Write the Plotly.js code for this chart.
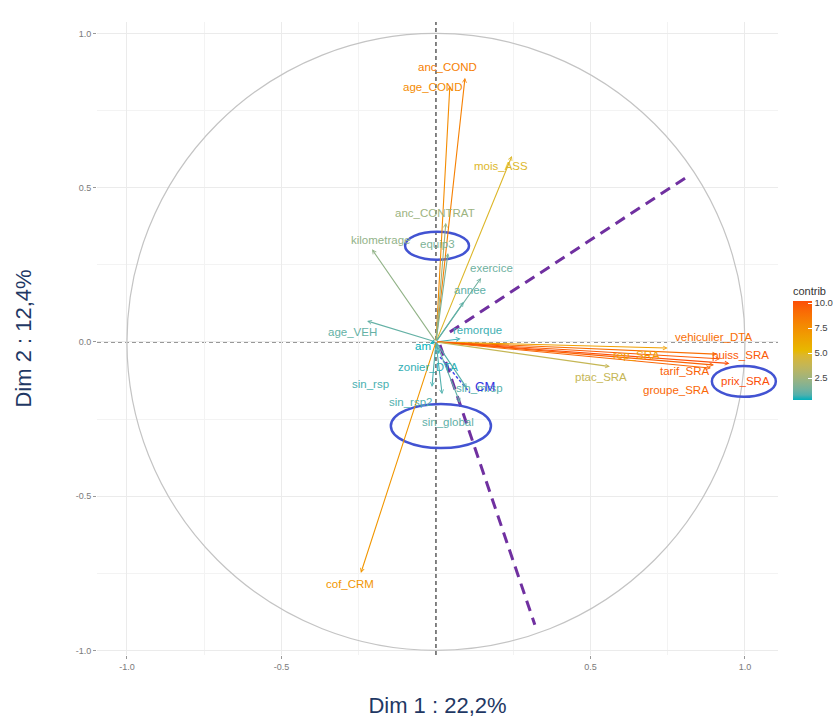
<!DOCTYPE html>
<html><head><meta charset="utf-8">
<script src="https://cdn.plot.ly/plotly-3.0.1.min.js"></script>
<style>html,body{margin:0;padding:0;background:#fff}</style>
</head><body><div id="chart" style="width:840px;height:720px"></div>
<script>
// ---- data ----
const varNames = ['anc_COND','age_COND','mois_ASS','anc_CONTRAT','equip3','kilometrage','exercice','annee',
  'age_VEH','remorque','am','zonier_DTA','sin_rsp','sin_rsp2','sin_mrsp','sin_global','cof_CRM',
  'vehiculier_DTA','rep_SRA','puiss_SRA','tarif_SRA','prix_SRA','groupe_SRA','ptac_SRA'];
const dim1 = [0.094,0.045,0.246,0.032,0.039,-0.207,0.146,0.090,
  -0.223,0.080,-0.020,0.010,-0.013,0.020,0.100,0.078,-0.243,
  0.910,0.750,0.920,0.900,0.950,0.890,0.563];
const dim2 = [0.856,0.830,0.603,0.386,0.288,0.300,0.207,0.130,
  0.068,0.010,-0.005,-0.040,-0.146,-0.170,-0.150,-0.198,-0.749,
  -0.040,-0.020,-0.055,-0.075,-0.070,-0.085,-0.080];
const contrib = [8.2,7.6,4.8,2.4,1.6,2.1,1.3,1.0,
  1.1,0.6,0.3,0.5,0.7,0.8,0.9,1.0,7.1,
  9.0,6.6,9.8,9.5,10.2,9.3,3.8];
const xTickVals = [-1,-0.5,0.5,1];
const xTickText = ['-1.0','-0.5','0.5','1.0'];
const yTickVals = [-1,-0.5,0,0.5,1];
const yTickText = ['-1.0','-0.5','0.0','0.5','1.0'];
const legendTickVals = [2.5,5,7.5,10];
const legendTickText = ['2.5','5.0','7.5','10.0'];
const xTitle = 'Dim 1 : 22,2%';
const yTitle = 'Dim 2 : 12,4%';
const legendTitle = 'contrib';
const highlightText = 'CM';

// ---- layout helpers (label repel offsets in px, hand-drawn marks) ----
const labelShift = {
  anc_COND:[-18,11], age_COND:[-17,-1], mois_ASS:[-11,-10], anc_CONTRAT:[-11,10], equip3:[-11,9],
  kilometrage:[8,9], exercice:[10,10], annee:[6,12], age_VEH:[-15,-11], remorque:[17,9], am:[-7,-3],
  zonier_DTA:[-11,-13], sin_rsp:[-61,3], sin_rsp2:[-32,-8], sin_mrsp:[13,0], sin_global:[-12,-19],
  cof_CRM:[-11,-11], vehiculier_DTA:[-4,17], rep_SRA:[-31,-7], puiss_SRA:[20,4], tarif_SRA:[-29,-6],
  prix_SRA:[16,-18], groupe_SRA:[-35,-22], ptac_SRA:[-9,-10]
};
const gradientCols = ['#00AFBB','#E7B800','#FC4E07'];
const cmin = Math.min(...contrib), cmax = Math.max(...contrib);

// Lab interpolation (as ggplot's gradientn)
function hex2rgb(h){return [1,3,5].map(i=>parseInt(h.substr(i,2),16));}
function lin(c){c/=255;return c<=0.04045?c/12.92:Math.pow((c+0.055)/1.055,2.4);}
function delin(c){c=c<=0.0031308?12.92*c:1.055*Math.pow(c,1/2.4)-0.055;return Math.max(0,Math.min(255,Math.round(c*255)));}
function rgb2lab(rgb){
  const [r,g,b]=rgb.map(lin);
  let X=(0.4124*r+0.3576*g+0.1805*b)/0.95047, Y=(0.2126*r+0.7152*g+0.0722*b), Z=(0.0193*r+0.1192*g+0.9505*b)/1.08883;
  const f=t=>t>0.008856?Math.cbrt(t):7.787*t+16/116;
  const fx=f(X),fy=f(Y),fz=f(Z);
  return [116*fy-16,500*(fx-fy),200*(fy-fz)];
}
function lab2rgb(lab){
  const fy=(lab[0]+16)/116, fx=fy+lab[1]/500, fz=fy-lab[2]/200;
  const fi=t=>t*t*t>0.008856?t*t*t:(t-16/116)/7.787;
  const X=fi(fx)*0.95047, Y=fi(fy), Z=fi(fz)*1.08883;
  const r=3.2406*X-1.5372*Y-0.4986*Z, g=-0.9689*X+1.8758*Y+0.0415*Z, b=0.0557*X-0.2040*Y+1.0570*Z;
  return [r,g,b].map(delin);
}
const labStops = gradientCols.map(h=>rgb2lab(hex2rgb(h)));
function colorAt(t){
  t=Math.max(0,Math.min(1,t));
  const seg=Math.min(labStops.length-2,Math.floor(t*(labStops.length-1)));
  const f=t*(labStops.length-1)-seg;
  const a=labStops[seg],b=labStops[seg+1];
  const c=lab2rgb(a.map((x,k)=>x+(b[k]-x)*f));
  return 'rgb('+c.join(',')+')';
}
function colorFor(v){return colorAt((v-cmin)/(cmax-cmin));}
const colorscale=[];
for(let i=0;i<=20;i++){colorscale.push([i/20,colorAt(i/20)]);}

const FONT = 'Liberation Sans, Arial, sans-serif';

const annotations = [];
varNames.forEach((n,i)=>{
  const col = colorFor(contrib[i]);
  annotations.push({x:dim1[i], y:dim2[i], ax:0, ay:0, xref:'x', yref:'y', axref:'x', ayref:'y',
    text:'', showarrow:true, arrowhead:5, arrowsize:0.7, arrowwidth:1.1, arrowcolor:col});
});
varNames.forEach((n,i)=>{
  const col = colorFor(contrib[i]);
  const s = labelShift[n]||[0,0];
  annotations.push({x:dim1[i], y:dim2[i], xref:'x', yref:'y', text:n, showarrow:false,
    xshift:s[0], yshift:s[1], font:{family:FONT, size:11.5, color:col}});
});
// hand-written "CM"
annotations.push({x:0.16, y:-0.145, xref:'x', yref:'y', text:highlightText, showarrow:false,
  font:{family:FONT, size:13, color:'#3434E0'}});

const ellipses = [
  {x0:-0.100,x1:0.107,y0:0.266,y1:0.357},
  {x0:-0.146,x1:0.178,y0:-0.344,y1:-0.201},
  {x0:0.893,x1:1.100,y0:-0.178,y1:-0.078}
];
const purpleLines = [
  {x0:0.045,y0:0.032,x1:0.822,y1:0.541},
  {x0:0.013,y0:-0.010,x1:0.320,y1:-0.917}
];
const shapes = [
  {type:'circle', xref:'x', yref:'y', x0:-1, x1:1, y0:-1, y1:1, layer:'between',
    line:{color:'#C4C4C4', width:1.2}},
  {type:'line', xref:'x', yref:'paper', x0:0, x1:0, y0:0, y1:1, layer:'between',
    line:{color:'#333', width:1.2, dash:'4px,3px'}},
  {type:'line', xref:'paper', yref:'y', x0:0, x1:1, y0:0, y1:0, layer:'between',
    line:{color:'#333', width:1.2, dash:'4px,3px'}}
];
purpleLines.forEach(p=>shapes.push(Object.assign({type:'line', xref:'x', yref:'y', layer:'above',
  line:{color:'#7030A0', width:3, dash:'11px,7px'}}, p)));
ellipses.forEach(e=>shapes.push(Object.assign({type:'circle', xref:'x', yref:'y', layer:'above',
  line:{color:'#4253D2', width:2.5}}, e)));
shapes.push({type:'line', xref:'x', yref:'y', x0:0.013, y0:-0.049, x1:0.11, y1:-0.165, layer:'above',
  line:{color:'#4848E6', width:1.5, dash:'3px,2px'}});

const colorTrace = {
  type:'scatter', mode:'markers', x:dim1, y:dim2, hoverinfo:'skip', showlegend:false,
  marker:{size:1, opacity:0, color:contrib, colorscale:colorscale, cmin:cmin, cmax:cmax, showscale:true,
    colorbar:{x:1.022, xanchor:'left', y:0.586, yanchor:'top', ypad:0, xpad:0, thickness:19, thicknessmode:'pixels',
      len:116, lenmode:'pixels', outlinewidth:0, tickvals:legendTickVals, ticktext:legendTickText,
      ticks:'inside', ticklen:4, tickcolor:'#fff', tickfont:{family:FONT, size:9.5, color:'#444'},
      title:{text:legendTitle, side:'top', font:{family:FONT, size:11, color:'#333'}}}}
};

const layout = {
  width:840, height:720,
  margin:{l:97, r:62, t:22, b:65, autoexpand:false},
  paper_bgcolor:'#fff', plot_bgcolor:'#fff',
  showlegend:false,
  xaxis:{range:[-1.097,1.107], tickvals:xTickVals, ticktext:xTickText, showgrid:true, gridcolor:'#EBEBEB',
    gridwidth:1, zeroline:false, ticks:'outside', ticklen:3, tickcolor:'#999', automargin:false,
    tickfont:{family:FONT, size:9, color:'#7a7a7a'},
    minor:{tickvals:[-0.75,-0.25,0.25,0.75], showgrid:true, gridcolor:'#F3F3F3', gridwidth:1},
    title:{text:xTitle, standoff:26, font:{family:FONT, size:22, color:'#1F3864'}}},
  yaxis:{range:[-1.015,1.037], tickvals:yTickVals, ticktext:yTickText, showgrid:true, gridcolor:'#EBEBEB',
    gridwidth:1, zeroline:false, ticks:'outside', ticklen:3, tickcolor:'#999', automargin:false,
    tickfont:{family:FONT, size:9, color:'#7a7a7a'},
    minor:{tickvals:[-0.75,-0.25,0.25,0.75], showgrid:true, gridcolor:'#F3F3F3', gridwidth:1},
    title:{text:yTitle, standoff:37, font:{family:FONT, size:22, color:'#1F3864'}}},
  shapes:shapes, annotations:annotations
};
Plotly.newPlot('chart',[colorTrace],layout,{displayModeBar:false, staticPlot:true});
</script></body></html>
